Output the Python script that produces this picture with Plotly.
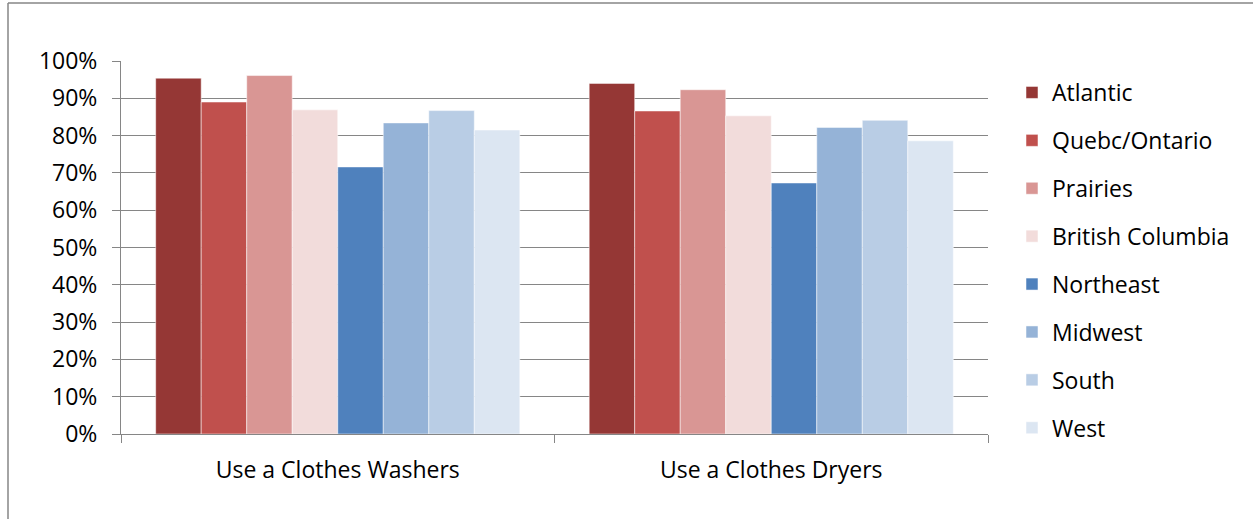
import plotly.graph_objects as go

categories = ["Use a Clothes Washers", "Use a Clothes Dryers"]
regions = ["Atlantic", "Quebc/Ontario", "Prairies", "British Columbia",
           "Northeast", "Midwest", "South", "West"]
atlantic = [0.954, 0.940]
quebec_ontario = [0.890, 0.866]
prairies = [0.961, 0.923]
british_columbia = [0.869, 0.853]
northeast = [0.716, 0.673]
midwest = [0.834, 0.822]
south = [0.867, 0.841]
west = [0.815, 0.786]
values = [atlantic, quebec_ontario, prairies, british_columbia,
          northeast, midwest, south, west]
colors = ["#953735", "#C0504D", "#D99694", "#F2DCDB",
          "#4F81BD", "#95B3D7", "#B9CDE5", "#DCE6F2"]

W, H = 1253, 519
L, R, T, B = 121, 988, 61, 434
pw, ph = R - L, B - T
font = "'Open Sans', sans-serif"


def px(x):
    return (x - L) / pw


def py(y):
    return (B - y) / ph


fig = go.Figure()
for name, vals, col in zip(regions, values, colors):
    fig.add_trace(go.Bar(x=categories, y=vals, name=name, legendgroup=name,
                         marker=dict(color=col, line=dict(color="rgba(255,255,255,0.5)", width=1))))

fig.update_layout(
    width=W, height=H,
    margin=dict(l=L, r=W - R, t=T, b=H - B, pad=0),
    paper_bgcolor="white", plot_bgcolor="white",
    barmode="group", bargap=0.16, bargroupgap=0,
    font=dict(family=font, size=23, color="black"),
    showlegend=True,
    legend=dict(x=px(1012), xanchor="left", y=py(71), yanchor="top",
                tracegroupgap=15, font=dict(size=23), traceorder="grouped",
                bgcolor="rgba(0,0,0,0)", maxheight=500),
    xaxis=dict(showline=True, linecolor="#868686", linewidth=1, ticks="outside",
               tickson="boundaries", ticklen=8, tickcolor="#868686",
               showgrid=False, ticklabelstandoff=15),
    yaxis=dict(range=[0, 1], dtick=0.1, tickformat=".0%", showgrid=True,
               gridcolor="#868686", gridwidth=1, showline=True, linecolor="#868686",
               ticks="outside", ticklen=8, tickcolor="#868686", zeroline=False,
               ticklabelstandoff=10),
    shapes=[dict(type="line", xref="paper", yref="paper",
                 x0=px(8), x1=px(1260), y0=py(3), y1=py(3),
                 line=dict(color="#868686", width=1.5), layer="below"),
            dict(type="line", xref="paper", yref="paper",
                 x0=px(8), x1=px(8), y0=py(3), y1=py(525),
                 line=dict(color="#868686", width=1.5), layer="below")],
)

fig.write_html("out.html", config={"displayModeBar": False},
               post_script="document.body.style.margin='0';")
